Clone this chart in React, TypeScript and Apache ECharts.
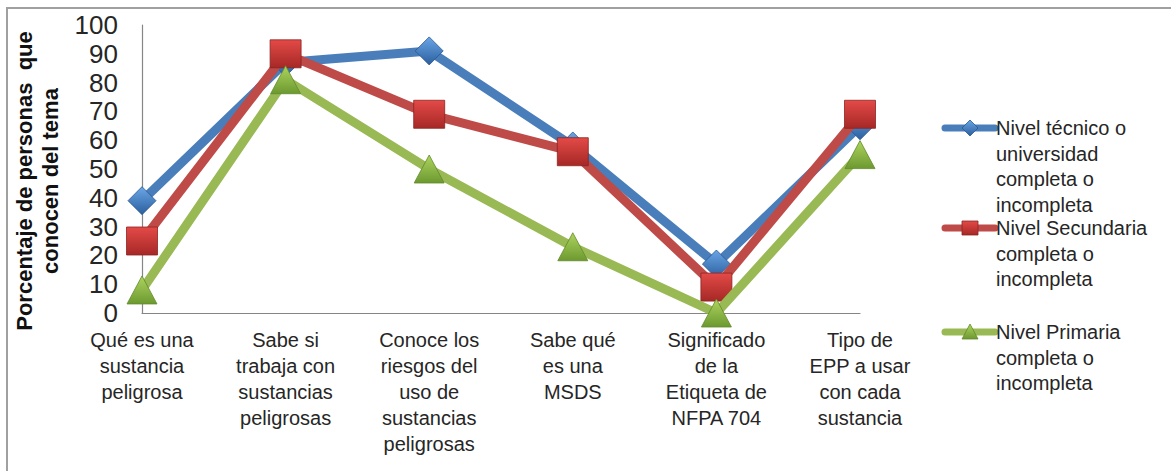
import React, { useEffect, useRef } from "react";
import * as echarts from "echarts";

// Topics asked about (x-axis categories, with manual line breaks)
const categories = [
  "Qué es una\nsustancia\npeligrosa",
  "Sabe si\ntrabaja con\nsustancias\npeligrosas",
  "Conoce los\nriesgos del\nuso de\nsustancias\npeligrosas",
  "Sabe qué\nes una\nMSDS",
  "Significado\nde la\nEtiqueta de\nNFPA 704",
  "Tipo de\nEPP a usar\ncon cada\nsustancia",
];

// Percentage of people who know each topic, by education level
const tecnicoValues = [39, 87, 91, 58, 17, 65];
const secundariaValues = [25, 90, 69, 56, 9, 69];
const primariaValues = [8, 81, 50, 23, 0, 55];

const seriesNames = [
  "Nivel técnico o\nuniversidad\ncompleta o\nincompleta",
  "Nivel Secundaria\ncompleta o\nincompleta",
  "Nivel Primaria\ncompleta o\nincompleta",
];

const yTicks = [0, 10, 20, 30, 40, 50, 60, 70, 80, 90, 100];

const FONT = "'Liberation Sans', Arial, sans-serif";
const TEXT = "#262626";

const grad = (top: string, bottom: string) =>
  new echarts.graphic.LinearGradient(0, 0, 0, 1, [
    { offset: 0, color: top },
    { offset: 1, color: bottom },
  ]);

const styles = [
  {
    line: "#4a7ebb",
    symbol: "diamond",
    size: [28, 28],
    fill: () => grad("#6aa6e6", "#2c5f9e"),
    stroke: "#2a5590",
  },
  {
    line: "#be4b48",
    symbol: "rect",
    size: [31, 28],
    fill: () => grad("#e34a47", "#a62826"),
    stroke: "#8a2422",
  },
  {
    line: "#98b954",
    symbol: "triangle",
    size: [30, 28],
    fill: () => grad("#aed45e", "#6c9930"),
    stroke: "#5f8a2a",
  },
];

const seriesData = [tecnicoValues, secundariaValues, primariaValues];

// Legend entries: icon row position and text block
const legendRows = [128, 228, 332];
const LEGEND_LINE_X0 = 945;
const LEGEND_LINE_X1 = 995;
const LEGEND_LH = 25.5;

function legendMarker(i: number, cx: number, cy: number) {
  const s = styles[i];
  const common = {
    style: { fill: s.fill(), stroke: s.stroke, lineWidth: 0.8 },
    z: 20,
  };
  if (i === 0) {
    return {
      type: "polygon",
      shape: {
        points: [
          [cx, cy - 8],
          [cx + 8, cy],
          [cx, cy + 8],
          [cx - 8, cy],
        ],
      },
      ...common,
    };
  }
  if (i === 1) {
    return {
      type: "rect",
      shape: { x: cx - 8, y: cy - 7, width: 16, height: 14 },
      ...common,
    };
  }
  return {
    type: "polygon",
    shape: {
      points: [
        [cx, cy - 8],
        [cx + 8, cy + 7],
        [cx - 8, cy + 7],
      ],
    },
    ...common,
  };
}

export default function App() {
  const ref = useRef<HTMLDivElement>(null);

  useEffect(() => {
    if (!ref.current) return;
    const chart = echarts.init(ref.current, undefined, { renderer: "svg" });

    const legendGraphics: any[] = [];
    seriesNames.forEach((name, i) => {
      const y = legendRows[i];
      legendGraphics.push({
        type: "line",
        shape: { x1: LEGEND_LINE_X0, y1: y, x2: LEGEND_LINE_X1, y2: y },
        style: { stroke: styles[i].line, lineWidth: 7, lineCap: "round" },
        z: 19,
      });
      legendGraphics.push(legendMarker(i, (LEGEND_LINE_X0 + LEGEND_LINE_X1) / 2, y));
      legendGraphics.push({
        type: "text",
        x: LEGEND_LINE_X1 + 1,
        y: y - LEGEND_LH / 2,
        style: {
          text: name,
          font: `20px ${FONT}`,
          fill: TEXT,
          lineHeight: LEGEND_LH,
          verticalAlign: "top",
        },
        z: 20,
      });
    });

    chart.setOption({
      animation: false,
      backgroundColor: "#ffffff",
      grid: { left: 142, right: 311, top: 25, bottom: 158 },
      xAxis: {
        type: "category",
        data: categories,
        boundaryGap: false,
        axisLine: { lineStyle: { color: "#868686", width: 1.2 } },
        axisTick: { show: false },
        axisLabel: {
          interval: 0,
          margin: 14,
          color: TEXT,
          fontFamily: FONT,
          fontSize: 20,
          lineHeight: 26,
          align: "center",
          verticalAlign: "top",
        },
        splitLine: { show: false },
      },
      yAxis: {
        type: "value",
        min: yTicks[0],
        max: yTicks[yTicks.length - 1],
        interval: 10,
        axisLine: { show: true, lineStyle: { color: "#868686", width: 1.2 } },
        axisTick: { show: false },
        splitLine: { show: false },
        axisLabel: {
          margin: 24,
          color: TEXT,
          fontFamily: FONT,
          fontSize: 26,
        },
        name: "Porcentaje de personas  que\nconocen del tema",
        nameLocation: "middle",
        nameGap: 86,
        nameRotate: 90,
        nameTextStyle: {
          color: "#111111",
          fontFamily: FONT,
          fontWeight: "bold",
          fontSize: 22,
          lineHeight: 26,
          align: "center",
          verticalAlign: "middle",
          padding: [0, 24, 0, 0],
        },
      },
      series: seriesData.map((vals, i) => ({
        name: seriesNames[i],
        type: "line",
        data: vals,
        clip: false,
        symbol: styles[i].symbol,
        symbolSize: styles[i].size,
        lineStyle: { color: styles[i].line, width: 9 },
        itemStyle: {
          color: styles[i].fill(),
          borderColor: styles[i].stroke,
          borderWidth: 0.8,
        },
        z: 2 + i,
      })),
      graphic: [
        {
          type: "rect",
          shape: { x: 7, y: 8, width: 1300, height: 600 },
          style: { fill: "none", stroke: "#a0a0a0", lineWidth: 2 },
          z: 1,
          silent: true,
        },
        ...legendGraphics,
      ],
    });

    return () => chart.dispose();
  }, []);

  return (
    <div
      ref={ref}
      style={{ position: "absolute", left: 0, top: 0, width: 1171, height: 471 }}
    />
  );
}
